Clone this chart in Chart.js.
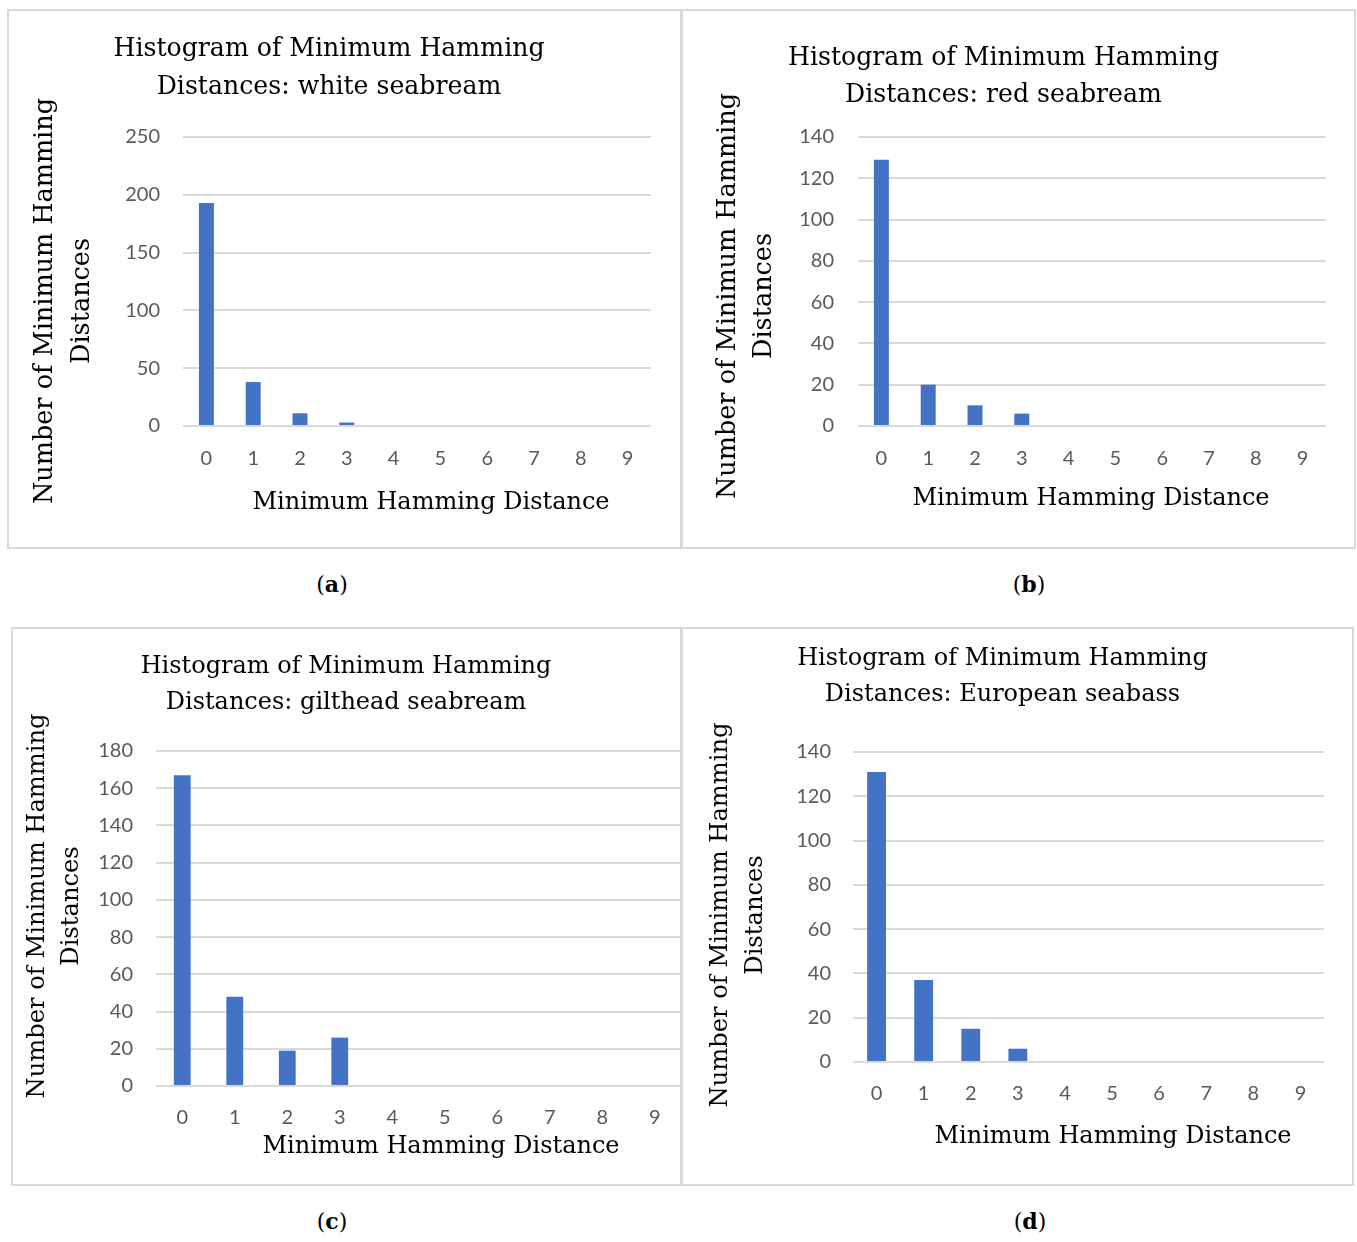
<!DOCTYPE html>
<html>
<head>
<meta charset="utf-8">
<script src="https://cdn.jsdelivr.net/npm/chart.js@4.4.1/dist/chart.umd.min.js"></script>
<style>
  body { margin: 0; background: #fff; width: 1357px; height: 1242px; position: relative; overflow: hidden; }
  .box { position: absolute; border: 2px solid #d9d9d9; box-sizing: border-box; }
  canvas { position: absolute; }
  .cap { position: absolute; font-family: "DejaVu Serif", serif; font-size: 22px; color: #000; transform: translateX(-50%); }
</style>
</head>
<body>
<div class="box" style="left:7px;top:9px;width:675px;height:540px"></div>
<div class="box" style="left:681px;top:9px;width:675px;height:540px"></div>
<div class="box" style="left:11px;top:627px;width:671px;height:559px"></div>
<div class="box" style="left:681px;top:627px;width:673px;height:559px"></div>
<canvas id="chartA" width="674" height="539" style="left:7px;top:9px"></canvas>
<canvas id="chartB" width="674" height="539" style="left:681px;top:9px"></canvas>
<canvas id="chartC" width="670" height="558" style="left:11px;top:627px"></canvas>
<canvas id="chartD" width="672" height="558" style="left:681px;top:627px"></canvas>
<div class="cap" style="left:332px;top:571px">(<b>a</b>)</div>
<div class="cap" style="left:1029px;top:571px">(<b>b</b>)</div>
<div class="cap" style="left:332px;top:1208px">(<b>c</b>)</div>
<div class="cap" style="left:1030px;top:1208px">(<b>d</b>)</div>
<script>
// x categories: minimum Hamming distance
const distanceLabels = ['0', '1', '2', '3', '4', '5', '6', '7', '8', '9'];

// counts per distance
const whiteSeabream = [193, 38, 11, 3, 0, 0, 0, 0, 0, 0];
const redSeabream = [129, 20, 10, 6, 0, 0, 0, 0, 0, 0];
const giltheadSeabream = [167, 48, 19, 26, 0, 0, 0, 0, 0, 0];
const europeanSeabass = [131, 37, 15, 6, 0, 0, 0, 0, 0, 0];

// y axis ticks
const ticksWhite = [0, 50, 100, 150, 200, 250];
const ticksRed = [0, 20, 40, 60, 80, 100, 120, 140];
const ticksGilthead = [0, 20, 40, 60, 80, 100, 120, 140, 160, 180];
const ticksSeabass = [0, 20, 40, 60, 80, 100, 120, 140];

const titleLine1 = 'Histogram of Minimum Hamming';
const yTitleLines = ['Number of Minimum Hamming', 'Distances'];
const xTitle = 'Minimum Hamming Distance';

const BAR_COLOR = '#4472C4';
const GRID_COLOR = '#d9d9d9';
const TICK_COLOR = '#595959';
const SERIF = '"DejaVu Serif", serif';
const SANS = 'Lato, "Open Sans", sans-serif';

// axis titles drawn by hand so the long rotated title is not squeezed
const axisTitles = {
  id: 'axisTitles',
  afterDraw(chart, args, opts) {
    const ctx = chart.ctx;
    ctx.save();
    ctx.fillStyle = '#000';
    ctx.textAlign = 'center';
    ctx.textBaseline = 'middle';
    ctx.font = opts.ySize + 'px ' + SERIF;
    yTitleLines.forEach((line, i) => {
      ctx.save();
      ctx.translate(opts.yX[i], opts.yY);
      ctx.rotate(-Math.PI / 2);
      ctx.fillText(line, 0, 0);
      ctx.restore();
    });
    ctx.font = '24px ' + SERIF;
    ctx.fillText(xTitle, opts.xX, opts.xY);
    ctx.restore();
  }
};

function makeChart(id, subtitle, values, ticks, p) {
  const canvas = document.getElementById(id);
  const W = canvas.width, H = canvas.height;
  const titleSize = p.titleSize;
  const lh = p.titleY[1] - p.titleY[0];
  const padTop = p.titleY[0] - lh / 2;
  const padBottom = p.area.t - padTop - 2 * lh;

  return new Chart(canvas.getContext('2d'), {
    type: 'bar',
    data: {
      labels: distanceLabels,
      datasets: [{
        data: values,
        backgroundColor: BAR_COLOR,
        borderWidth: 0,
        barPercentage: p.bar,
        categoryPercentage: 1
      }]
    },
    plugins: [axisTitles],
    options: {
      responsive: false,
      animation: false,
      devicePixelRatio: 1,
      layout: { padding: { left: 0, top: 0, bottom: 0, right: W - p.area.r } },
      plugins: {
        legend: { display: false },
        tooltip: { enabled: false },
        title: {
          display: true,
          text: [titleLine1, subtitle],
          color: '#000',
          font: { family: SERIF, size: titleSize, weight: 'normal', lineHeight: lh / titleSize },
          padding: { top: padTop, bottom: padBottom }
        },
        axisTitles: {
          ySize: p.yTitleSize,
          yX: p.yTitleX,
          yY: p.yTitleY,
          xX: p.xTitleX,
          xY: p.xTitleY
        }
      },
      scales: {
        x: {
          grid: { display: false },
          border: { display: false },
          ticks: { color: TICK_COLOR, font: { family: SANS, size: 20 }, padding: p.xTickPad, maxRotation: 0 },
          afterFit: (scale) => { scale.height = H - p.area.b; }
        },
        y: {
          min: 0,
          max: ticks[ticks.length - 1],
          afterBuildTicks: (scale) => { scale.ticks = ticks.map(v => ({ value: v })); },
          grid: { color: GRID_COLOR, lineWidth: 2, drawTicks: false },
          border: { display: false },
          ticks: { color: TICK_COLOR, font: { family: SANS, size: 20 }, padding: p.yTickPad },
          afterFit: (scale) => { scale.width = p.area.l; }
        }
      }
    }
  });
}

makeChart('chartA', 'Distances: white seabream', whiteSeabream, ticksWhite, {
  area: { l: 176, r: 644, t: 128, b: 417 }, titleY: [40, 78], titleSize: 25.2, bar: 0.32,
  yTitleSize: 25.5, yTitleX: [38, 75], yTitleY: 292, xTitleX: 424, xTitleY: 494, xTickPad: 13, yTickPad: 23
});
makeChart('chartB', 'Distances: red seabream', redSeabream, ticksRed, {
  area: { l: 177, r: 645, t: 128, b: 417 }, titleY: [49, 86], titleSize: 25.2, bar: 0.32,
  yTitleSize: 25.5, yTitleX: [47, 83], yTitleY: 287, xTitleX: 410, xTitleY: 490, xTickPad: 13, yTickPad: 24
});
makeChart('chartC', 'Distances: gilthead seabream', giltheadSeabream, ticksGilthead, {
  area: { l: 145, r: 670, t: 124, b: 459 }, titleY: [40, 76], titleSize: 24, bar: 0.32,
  yTitleSize: 24.2, yTitleX: [27, 61], yTitleY: 279, xTitleX: 430, xTitleY: 520, xTickPad: 12, yTickPad: 23
});
makeChart('chartD', 'Distances: European seabass', europeanSeabass, ticksSeabass, {
  area: { l: 172, r: 643, t: 125, b: 435 }, titleY: [32, 68], titleSize: 24, bar: 0.4,
  yTitleSize: 24.2, yTitleX: [40, 75], yTitleY: 288, xTitleX: 432, xTitleY: 510, xTickPad: 12, yTickPad: 22
});
</script>
</body>
</html>
